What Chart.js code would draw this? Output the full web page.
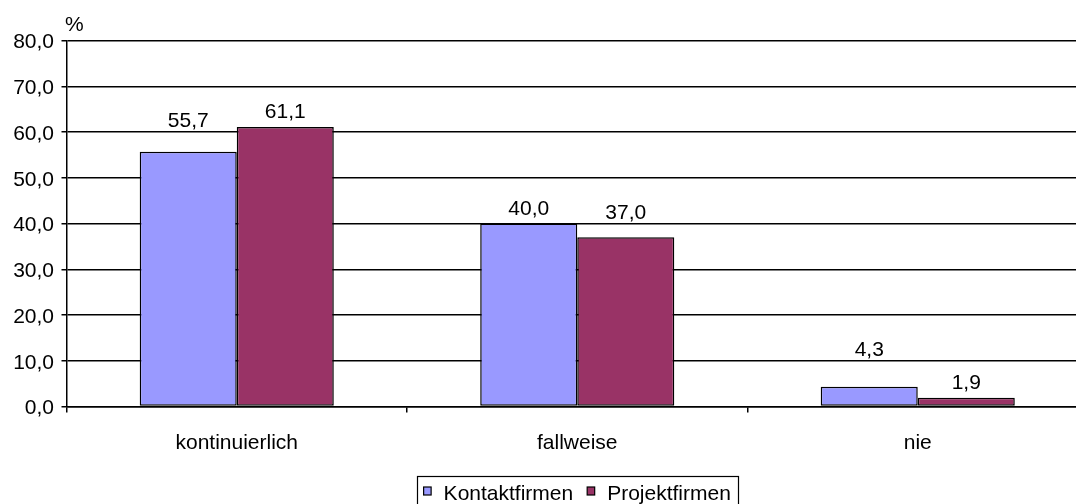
<!DOCTYPE html>
<html>
<head>
<meta charset="utf-8">
<script src="https://cdn.jsdelivr.net/npm/chart.js@4.4.1/dist/chart.umd.min.js"></script>
<style>
  html, body { margin: 0; padding: 0; background: #fff; overflow: hidden; }
  #wrap { width: 1076px; height: 504px; overflow: hidden; }
  canvas { display: block; }
</style>
</head>
<body>
<div id="wrap"><canvas id="chart"></canvas></div>
<script>
  const categories = ["kontinuierlich", "fallweise", "nie"];
  const kontaktfirmen = [55.7, 40.0, 4.3];
  const projektfirmen = [61.1, 37.0, 1.9];
  const seriesNames = ["Kontaktfirmen", "Projektfirmen"];
  const yMin = 0, yMax = 80, yStep = 10;
  const unitLabel = "%";

  // horizontal stretch of the drawing surface (1 = none)
  const SX = 1;
  const W = 1088, H = 504;
  const FONT = "'Liberation Sans', Arial, sans-serif";
  const FS = 21;
  const LINE = 1.5;
  const fmt = (v) => v.toFixed(1).replace(".", ",");

  const canvas = document.getElementById("chart");
  canvas.width = Math.round(W / SX);
  canvas.height = H;
  canvas.style.width = W + "px";
  canvas.style.height = H + "px";

  // value labels above the bars, lifted over a gridline when they would sit on it
  const valueLabels = {
    id: "valueLabels",
    afterDatasetsDraw(chart) {
      const ctx = chart.ctx;
      const yScale = chart.scales.y;
      const grid = yScale.ticks.map((t) => yScale.getPixelForValue(t.value));
      ctx.save();
      ctx.font = `${FS}px ${FONT}`;
      ctx.fillStyle = "#000";
      ctx.textAlign = "center";
      ctx.textBaseline = "alphabetic";
      chart.data.datasets.forEach((ds, i) => {
        chart.getDatasetMeta(i).data.forEach((bar, j) => {
          let base = bar.y - 8.5;
          grid.forEach((gy) => {
            if (gy < base && base - gy < 22) base = gy - 5;
          });
          ctx.fillText(fmt(ds.data[j]), bar.x, base);
        });
      });
      ctx.restore();
    }
  };

  // "%" over the value axis and the boxed legend below the chart
  const extras = {
    id: "extras",
    afterDraw(chart) {
      const ctx = chart.ctx;
      const area = chart.chartArea;
      ctx.save();
      ctx.font = `${FS}px ${FONT}`;
      ctx.fillStyle = "#000";
      ctx.textAlign = "left";
      ctx.textBaseline = "alphabetic";
      ctx.fillText(unitLabel, area.left - 1.5 / SX, 31);

      const items = chart.data.datasets.map((ds) => ({
        text: ds.label,
        color: ds.backgroundColor,
        w: ctx.measureText(ds.label).width
      }));
      const pad = 7 / SX, sq = 7.5 / SX, gap = 12.5 / SX, itemGap = 14 / SX;
      const total = pad * 2 + items.reduce((s, it) => s + sq + gap + it.w, 0) + itemGap * (items.length - 1);
      let x = (area.left + area.right) / 2 - total / 2;
      const top = 476.5;
      ctx.strokeStyle = "#000";
      ctx.lineWidth = 1.2;
      ctx.strokeRect(Math.round(x) + 0.5, top, Math.round(total), 40);
      x += pad;
      items.forEach((it) => {
        ctx.fillStyle = it.color;
        ctx.fillRect(x, 487, sq, 8);
        ctx.strokeRect(x, 487, sq, 8);
        ctx.fillStyle = "#000";
        ctx.fillText(it.text, x + sq + gap, 500);
        x += sq + gap + it.w + itemGap;
      });
      ctx.restore();
    }
  };

  new Chart(canvas, {
    type: "bar",
    data: {
      labels: categories,
      datasets: [
        {
          label: seriesNames[0],
          data: kontaktfirmen,
          backgroundColor: "#9999FF",
          borderColor: "#000",
          borderWidth: 1.5,
          borderSkipped: false,
          categoryPercentage: 0.57,
          barPercentage: 1
        },
        {
          label: seriesNames[1],
          data: projektfirmen,
          backgroundColor: "#993366",
          borderColor: "#000",
          borderWidth: 1.5,
          borderSkipped: false,
          categoryPercentage: 0.57,
          barPercentage: 1
        }
      ]
    },
    options: {
      responsive: false,
      animation: false,
      devicePixelRatio: 1,
      layout: { padding: { top: 40.5, left: 0, right: 0, bottom: 0 } },
      plugins: {
        legend: { display: false },
        tooltip: { enabled: false }
      },
      scales: {
        x: {
          afterFit: (scale) => { scale.height = 97.5; },
          grid: {
            display: true,
            drawOnChartArea: false,
            drawTicks: true,
            tickLength: 6,
            lineWidth: LINE,
            color: "#000",
            offset: true
          },
          border: { color: "#000", width: LINE },
          ticks: {
            color: "#000",
            padding: 18,
            maxRotation: 0,
            font: { family: FONT, size: FS }
          }
        },
        y: {
          min: yMin,
          max: yMax,
          afterFit: (scale) => { scale.width = 66.5 / SX; },
          grid: {
            color: "#000",
            lineWidth: LINE,
            drawTicks: true,
            tickLength: 5 / SX
          },
          border: { color: "#000", width: LINE },
          ticks: {
            stepSize: yStep,
            color: "#000",
            padding: 7.5 / SX,
            labelOffset: 2,
            font: { family: FONT, size: FS },
            callback: (v) => fmt(v)
          }
        }
      }
    },
    plugins: [valueLabels, extras]
  });
</script>
</body>
</html>
